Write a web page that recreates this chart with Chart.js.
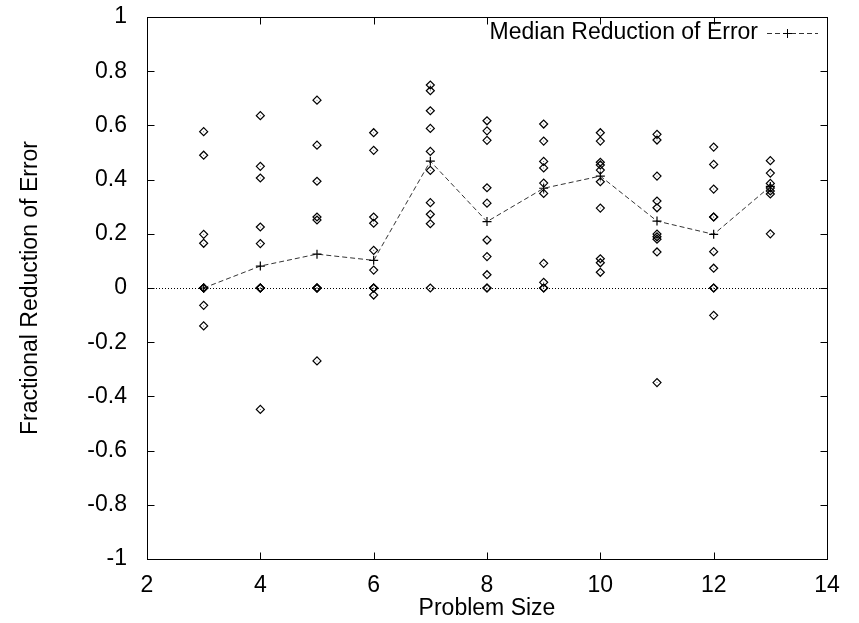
<!DOCTYPE html>
<html>
<head>
<meta charset="utf-8">
<script src="https://cdn.jsdelivr.net/npm/chart.js@4.4.0/dist/chart.umd.min.js"></script>
<style>
html,body{margin:0;padding:0;background:#fff;}
#wrap{width:859px;height:623px;}
</style>
</head>
<body>
<div id="wrap"><canvas id="c" width="859" height="623"></canvas></div>
<script>
// ---- data ----
const sizes = [3, 4, 5, 6, 7, 8, 9, 10, 11, 12, 13];
const r3  = [0.577, 0.490, 0.198, 0.165, 0, 0, 0, 0, -0.064, -0.140];
const r4  = [0.636, 0.449, 0.406, 0.225, 0.164, 0, 0, 0, 0, -0.448];
const r5  = [0.693, 0.527, 0.394, 0.262, 0.251, 0, 0, 0, 0, -0.269];
const r6  = [0.573, 0.508, 0.262, 0.239, 0.139, 0.066, 0, 0, 0, -0.026];
const r7  = [0.749, 0.728, 0.654, 0.589, 0.504, 0.434, 0.315, 0.272, 0.237, 0];
const r8  = [0.617, 0.580, 0.545, 0.370, 0.313, 0.177, 0.116, 0.049, 0, 0];
const r9  = [0.605, 0.542, 0.467, 0.443, 0.387, 0.349, 0.091, 0.021, 0, 0];
const r10 = [0.573, 0.542, 0.464, 0.454, 0.435, 0.392, 0.295, 0.108, 0.093, 0.058];
const r11 = [0.567, 0.546, 0.413, 0.321, 0.296, 0.199, 0.189, 0.180, 0.133, -0.349];
const r12 = [0.520, 0.456, 0.365, 0.262, 0.262, 0.134, 0.073, 0, 0, -0.101];
const r13 = [0.470, 0.424, 0.386, 0.369, 0.358, 0.347, 0.200];
const medians = [0, 0.081, 0.125, 0.102, 0.468, 0.245, 0.368, 0.413, 0.247, 0.198, 0.375];
const xTicks = [2, 4, 6, 8, 10, 12, 14];
const yTicks = [-1, -0.8, -0.6, -0.4, -0.2, 0, 0.2, 0.4, 0.6, 0.8, 1];
const xTitle = 'Problem Size';
const yTitle = 'Fractional Reduction of Error';
const seriesName = 'Median Reduction of Error';

// ---- build datasets ----
const trials = [r3, r4, r5, r6, r7, r8, r9, r10, r11, r12, r13];
const pointData = [];
sizes.forEach((s, i) => trials[i].forEach(v => pointData.push({x: s, y: v})));
const medianData = sizes.map((s, i) => ({x: s, y: medians[i]}));

const FONT = "'Liberation Sans', Arial, Helvetica, sans-serif";
const FS = 23;

const framePlugin = {
  id: 'frame',
  beforeDatasetsDraw(chart) {
    const {ctx, chartArea: a, scales: {y}} = chart;
    const py = Math.round(y.getPixelForValue(0)) + 0.5;
    ctx.save();
    ctx.strokeStyle = '#000';
    ctx.lineWidth = 1;
    ctx.setLineDash([1, 2]);
    ctx.beginPath();
    ctx.moveTo(a.left, py);
    ctx.lineTo(a.right, py);
    ctx.stroke();
    ctx.restore();
  },
  afterDraw(chart) {
    const {ctx, chartArea: a, scales: {x, y}} = chart;
    ctx.save();
    ctx.strokeStyle = '#000';
    ctx.lineWidth = 1;
    ctx.setLineDash([]);
    const L = Math.round(a.left) + 0.5, R = Math.round(a.right) + 0.5;
    const T = Math.round(a.top) + 0.5, B = Math.round(a.bottom) + 0.5;
    ctx.strokeRect(L, T, R - L, B - T);
    ctx.beginPath();
    x.ticks.forEach(t => {
      const px = Math.round(x.getPixelForValue(t.value)) + 0.5;
      ctx.moveTo(px, B); ctx.lineTo(px, B - 7);
      ctx.moveTo(px, T); ctx.lineTo(px, T + 7);
    });
    y.ticks.forEach(t => {
      const py = Math.round(y.getPixelForValue(t.value)) + 0.5;
      ctx.moveTo(L, py); ctx.lineTo(L + 7, py);
      ctx.moveTo(R, py); ctx.lineTo(R - 7, py);
    });
    ctx.stroke();

    // key (gnuplot style: text, then sample)
    const ds = chart.data.datasets[1];
    const ky = a.top + 16;
    ctx.font = FS + 'px ' + FONT;
    ctx.fillStyle = '#000';
    ctx.textAlign = 'right';
    ctx.textBaseline = 'middle';
    ctx.fillText(ds.label, 758, ky);
    ctx.strokeStyle = ds.borderColor;
    ctx.setLineDash(ds.borderDash);
    ctx.beginPath();
    ctx.moveTo(767, ky + 0.5); ctx.lineTo(818, ky + 0.5);
    ctx.stroke();
    ctx.setLineDash([]);
    ctx.strokeStyle = '#000';
    ctx.beginPath();
    ctx.moveTo(783, ky + 0.5); ctx.lineTo(792, ky + 0.5);
    ctx.moveTo(787.5, ky - 4); ctx.lineTo(787.5, ky + 5);
    ctx.stroke();
    ctx.restore();
  }
};

new Chart(document.getElementById('c'), {
  type: 'scatter',
  data: {
    datasets: [
      {
        label: 'trials',
        data: pointData,
        pointStyle: 'rectRot',
        pointRadius: 4,
        pointBorderWidth: 1.2,
        pointBorderColor: '#000',
        pointBackgroundColor: 'rgba(0,0,0,0)',
        showLine: false,
        order: 2
      },
      {
        label: seriesName,
        data: medianData,
        showLine: true,
        borderColor: '#333',
        borderWidth: 1,
        borderDash: [5, 3],
        pointStyle: 'cross',
        pointRadius: 4.5,
        pointBorderWidth: 1.2,
        pointBorderColor: '#000',
        tension: 0,
        order: 1
      },
      {
        label: 'centres',
        data: pointData,
        pointStyle: 'circle',
        pointRadius: 0.5,
        pointBorderWidth: 0,
        pointBackgroundColor: '#555',
        showLine: false,
        order: 3
      }
    ]
  },
  options: {
    responsive: false,
    animation: false,
    devicePixelRatio: 1,
    layout: {padding: {top: 17, right: 32, left: 0, bottom: 0}},
    plugins: {legend: {display: false}, tooltip: {enabled: false}},
    scales: {
      x: {
        type: 'linear',
        min: 2, max: 14,
        afterBuildTicks: s => { s.ticks = xTicks.map(v => ({value: v})); },
        afterFit: s => { s.height = 64; s.paddingLeft = 0; s.paddingRight = 0; },
        grid: {display: false},
        border: {display: false},
        ticks: {color: '#000', font: {family: FONT, size: FS}, padding: 5, maxRotation: 0, autoSkip: false},
        title: {display: true, text: xTitle, color: '#000', font: {family: FONT, size: FS}, padding: 1}
      },
      y: {
        type: 'linear',
        min: -1, max: 1,
        afterBuildTicks: s => { s.ticks = yTicks.map(v => ({value: v})); },
        afterFit: s => { s.width = 147; s.paddingTop = 0; s.paddingBottom = 0; },
        grid: {display: false},
        border: {display: false},
        ticks: {color: '#000', font: {family: FONT, size: FS}, padding: 12, autoSkip: false,
          callback: v => String(Math.round(v * 10) / 10)},
        title: {display: true, text: yTitle, color: '#000', font: {family: FONT, size: FS}, padding: 17}
      }
    }
  },
  plugins: [framePlugin]
});
</script>
</body>
</html>
